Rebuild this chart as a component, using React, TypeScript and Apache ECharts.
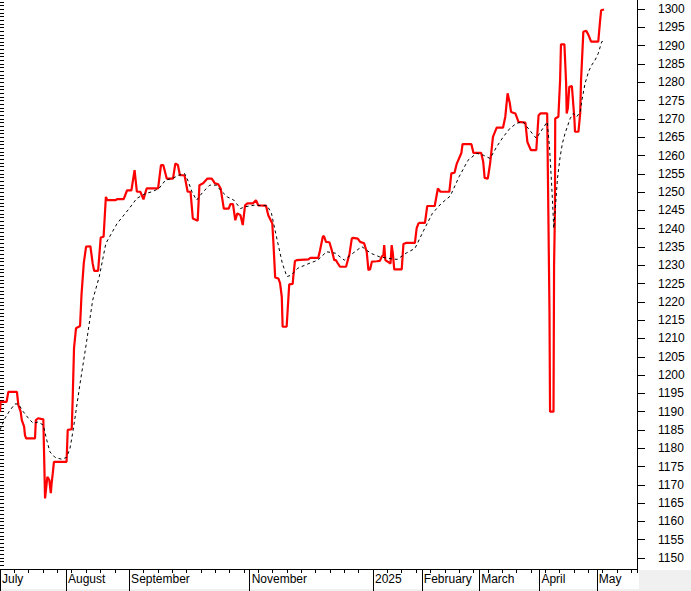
import React, { useEffect, useRef } from "react";
import * as echarts from "echarts";

// Trading-day index (x) and index value (y) of the closing line
const closePoints: [number, number][] = [
  [0, 1190.0], [0.2, 1192.7], [2.3, 1192.7], [2.9, 1195.4], [5.9, 1195.4], [6.4, 1191.8], [7.2, 1190.0],
  [7.6, 1187.7], [8.4, 1185.9], [8.7, 1183.6], [9.1, 1182.7], [12.2, 1182.7], [12.5, 1187.7], [13.3, 1188.2],
  [15.1, 1187.9], [15.4, 1177.2], [15.7, 1166.3], [16.5, 1172.2], [17.2, 1171.3], [17.7, 1167.7], [18.0, 1170.5],
  [18.4, 1173.2], [18.8, 1176.3], [23.2, 1176.3], [23.6, 1185.0], [25.0, 1185.2], [25.3, 1192.7], [25.8, 1207.4],
  [26.5, 1212.8], [27.9, 1213.4], [28.4, 1221.9], [29.2, 1230.6], [30.0, 1235.1], [31.5, 1235.2], [32.3, 1230.5],
  [32.8, 1228.5], [34.2, 1228.5], [35.1, 1237.6], [36.1, 1237.8], [36.9, 1248.7], [37.4, 1247.8], [40.3, 1247.8],
  [40.8, 1248.1], [43.1, 1248.1], [44.3, 1250.5], [45.8, 1250.5], [46.9, 1256.0], [47.7, 1250.1], [48.9, 1250.1],
  [50.0, 1248.0], [51.1, 1251.0], [55.1, 1251.0], [56.1, 1257.4], [56.9, 1257.4], [58.1, 1253.7], [60.3, 1253.7],
  [61.1, 1257.8], [62.0, 1257.4], [62.7, 1254.6], [64.3, 1254.6], [65.4, 1250.1], [66.4, 1250.1], [67.2, 1242.8],
  [68.9, 1242.2], [69.5, 1251.9], [70.8, 1252.4], [72.3, 1253.7], [73.8, 1253.7], [74.9, 1252.4], [76.1, 1252.1],
  [76.9, 1251.0], [78.0, 1245.5], [79.7, 1245.5], [80.3, 1246.7], [81.2, 1246.7], [82.0, 1242.3], [82.7, 1244.2],
  [83.8, 1243.7], [84.6, 1241.0], [85.4, 1246.4], [86.2, 1246.9], [88.1, 1246.9], [89.2, 1247.8], [90.0, 1246.4],
  [92.7, 1246.3], [93.5, 1243.7], [94.9, 1241.4], [95.3, 1236.0], [95.9, 1226.7], [97.0, 1226.4], [97.6, 1225.1],
  [98.2, 1221.4], [98.5, 1213.2], [99.9, 1213.2], [100.5, 1221.0], [100.8, 1224.8], [102.0, 1224.9], [102.2, 1226.7],
  [102.8, 1231.2], [103.4, 1231.4], [107.5, 1231.6], [108.1, 1232.0], [110.9, 1232.0], [111.5, 1234.0], [112.5, 1237.8],
  [112.9, 1238.0], [113.6, 1236.4], [114.8, 1236.3], [115.6, 1234.2], [116.5, 1231.4], [117.1, 1231.4], [117.6, 1230.7],
  [118.5, 1229.6], [120.6, 1229.6], [121.8, 1233.1], [122.6, 1237.3], [123.1, 1237.5], [124.7, 1237.3], [125.5, 1236.4],
  [126.9, 1236.0], [127.8, 1233.7], [128.4, 1228.7], [129.0, 1228.9], [129.6, 1231.0], [131.3, 1231.1], [132.4, 1231.2],
  [133.0, 1232.3], [133.6, 1232.8], [133.9, 1235.5], [134.3, 1231.4], [136.1, 1230.5], [136.5, 1235.5], [136.9, 1233.3],
  [137.4, 1228.9], [140.0, 1228.9], [140.6, 1235.8], [141.5, 1236.1], [144.6, 1236.1], [145.2, 1240.1], [145.8, 1241.4],
  [146.4, 1241.6], [148.1, 1241.6], [148.9, 1246.2], [151.5, 1246.2], [152.6, 1251.0], [153.5, 1250.1], [156.6, 1250.1],
  [157.3, 1255.1], [158.4, 1255.3], [159.2, 1257.8], [160.8, 1260.7], [161.2, 1263.1], [164.3, 1263.1], [165.0, 1260.7],
  [167.7, 1260.7], [168.4, 1258.3], [168.9, 1253.9], [170.0, 1253.7], [170.8, 1257.8], [171.8, 1265.1], [173.1, 1267.6],
  [175.3, 1267.6], [176.1, 1270.6], [176.9, 1277.0], [177.7, 1274.2], [178.1, 1271.9], [179.6, 1271.5], [180.7, 1269.2],
  [183.1, 1269.0], [183.8, 1263.7], [185.0, 1261.5], [186.9, 1261.5], [187.7, 1271.0], [188.4, 1271.5], [190.7, 1271.5],
  [191.1, 1244.6], [191.5, 1217.3], [191.7, 1190.0], [192.9, 1190.0], [193.1, 1230.1], [193.4, 1244.6], [193.5, 1270.1],
  [194.6, 1270.6], [195.2, 1280.6], [195.5, 1290.4], [196.7, 1290.4], [197.3, 1279.7], [197.5, 1271.5], [197.9, 1272.9],
  [198.4, 1278.8], [199.3, 1279.0], [199.6, 1276.0], [200.2, 1269.7], [200.4, 1266.5], [201.6, 1266.5], [202.2, 1271.5],
  [202.5, 1280.6], [203.3, 1293.8], [204.3, 1294.1], [205.1, 1292.9], [206.0, 1291.1], [208.5, 1291.1], [209.1, 1296.5],
  [209.5, 1299.7], [210.5, 1299.9],
];

// Moving average (dashed black line)
const averagePoints: [number, number][] = [
  [0, 1185.0], [1.7, 1188.2], [3.5, 1190.4], [5.2, 1192.1], [6.4, 1192.1], [8.1, 1190.0], [9.9, 1188.2],
  [11.6, 1186.8], [13.3, 1187.2], [15.1, 1186.3], [16.3, 1182.2], [17.4, 1179.0], [19.2, 1177.5], [21.5, 1177.0],
  [23.2, 1177.5], [24.4, 1180.0], [25.5, 1185.0], [26.7, 1191.3], [27.9, 1197.7], [30.0, 1208.2], [32.3, 1220.5],
  [34.6, 1226.9], [36.9, 1236.0], [40.8, 1241.4], [44.6, 1245.1], [47.7, 1248.3], [50.7, 1249.6], [53.0, 1250.1],
  [55.4, 1251.0], [57.7, 1253.3], [60.0, 1253.7], [62.3, 1254.6], [64.3, 1255.1], [65.4, 1253.3], [66.9, 1250.1],
  [68.5, 1247.8], [70.8, 1250.1], [73.1, 1251.9], [75.4, 1251.9], [76.9, 1250.5], [79.2, 1248.7], [81.5, 1247.8],
  [83.8, 1245.5], [85.4, 1246.0], [88.5, 1246.4], [93.1, 1246.3], [94.6, 1244.2], [96.1, 1238.7], [98.4, 1230.5],
  [100.0, 1226.9], [101.5, 1227.3], [103.8, 1229.2], [107.7, 1230.5], [110.7, 1231.4], [113.8, 1233.7], [116.9, 1233.3],
  [120.0, 1231.4], [123.0, 1233.3], [126.1, 1235.1], [129.2, 1233.3], [132.3, 1232.3], [135.3, 1231.9], [138.4, 1231.6],
  [141.5, 1233.3], [144.6, 1234.6], [147.7, 1239.6], [150.7, 1244.2], [153.8, 1246.9], [156.9, 1248.9], [160.0, 1254.2],
  [163.1, 1258.7], [166.1, 1260.6], [168.4, 1260.1], [170.8, 1259.2], [173.1, 1262.4], [175.4, 1265.1], [177.7, 1267.4],
  [180.0, 1268.8], [182.3, 1269.2], [184.6, 1266.9], [186.9, 1264.7], [189.2, 1267.4], [190.7, 1269.2], [191.5, 1262.4],
  [192.3, 1251.4], [193.0, 1240.1], [193.4, 1244.2], [194.3, 1253.8], [195.2, 1259.6], [196.0, 1263.3], [196.9, 1266.0],
  [198.7, 1270.1], [199.8, 1271.5], [201.0, 1270.6], [202.2, 1271.9], [202.8, 1275.1], [203.9, 1279.7], [205.1, 1282.9],
  [206.2, 1284.7], [207.4, 1286.1], [208.5, 1287.9], [209.7, 1291.1], [210.5, 1291.3],
];

// Month boundaries (trading-day index) and their labels
const monthStarts = [0, 23, 45, 87, 130, 147, 167, 188, 208];
const monthLabels = ["July", "August", "September", "November", "2025", "February", "March", "April", "May"];

const X_MIN = 0;
const X_MAX = 222;
const Y_MIN = 1147;
const Y_MAX = 1302.5;

const yMajorTicks: number[] = [];
for (let v = 1150; v <= 1300; v += 5) yMajorTicks.push(v);
const yMinorTicks: number[] = [];
for (let v = 1147; v <= 1302; v += 1) yMinorTicks.push(v);

const FONT = "'Liberation Sans', Arial, sans-serif";

export default function App() {
  const ref = useRef<HTMLDivElement>(null);

  useEffect(() => {
    if (!ref.current) return;
    const chart = echarts.init(ref.current, undefined, { renderer: "svg" });
    const option: any = {
      animation: false,
      backgroundColor: "#ffffff",
      grid: { left: 0, right: 54, top: 0, bottom: 22, containLabel: false, outerBoundsMode: "none" },
      graphic: [
        { type: "rect", left: 639, top: 570, shape: { width: 52, height: 21 }, style: { fill: "#f0f0f0" }, z: -1 },
        { type: "rect", left: 0, top: 589, shape: { width: 691, height: 2 }, style: { fill: "#f0f0f0" }, z: -1 },
      ],
      xAxis: [
        {
          type: "value",
          min: X_MIN,
          max: X_MAX,
          position: "bottom",
          axisLine: { show: true, onZero: false, lineStyle: { color: "#000", width: 1 } },
          axisTick: { show: true, customValues: monthStarts, length: 22, lineStyle: { color: "#000", width: 1 } },
          axisLabel: {
            show: true,
            customValues: monthStarts,
            formatter: (v: number) => {
              const i = monthStarts.indexOf(v);
              return i >= 0 ? monthLabels[i] : "";
            },
            align: "left",
            margin: 4,
            padding: [0, 0, 0, 2],
            color: "#000",
            fontSize: 12,
            fontFamily: FONT,
          },
          splitLine: { show: false },
        },
        {
          type: "value",
          min: X_MIN,
          max: X_MAX,
          interval: 5,
          position: "bottom",
          axisLine: { show: false },
          axisTick: { show: true, length: 4, lineStyle: { color: "#000", width: 1 } },
          axisLabel: { show: false },
          splitLine: { show: false },
        },
      ],
      yAxis: [
        {
          type: "value",
          min: Y_MIN,
          max: Y_MAX,
          position: "right",
          axisLine: { show: true, onZero: false, lineStyle: { color: "#000", width: 1 } },
          axisTick: { show: true, customValues: yMajorTicks, length: 8, lineStyle: { color: "#000", width: 1 } },
          axisLabel: {
            show: true,
            customValues: yMajorTicks,
            formatter: (v: number) => String(Math.round(v)),
            margin: 21,
            color: "#000",
            fontSize: 12,
            fontFamily: FONT,
          },
          splitLine: { show: false },
        },
        {
          type: "value",
          min: Y_MIN,
          max: Y_MAX,
          position: "right",
          axisLine: { show: false },
          axisTick: { show: true, customValues: yMinorTicks, length: 4, lineStyle: { color: "#000", width: 1 } },
          axisLabel: { show: false },
          splitLine: { show: false },
        },
      ],
      series: [
        {
          type: "line",
          xAxisIndex: 0,
          yAxisIndex: 0,
          data: closePoints,
          showSymbol: false,
          symbol: "none",
          lineStyle: { color: "#ff0000", width: 2.2 },
          z: 2,
        },
        {
          type: "line",
          xAxisIndex: 0,
          yAxisIndex: 0,
          data: averagePoints,
          showSymbol: false,
          symbol: "none",
          lineStyle: { color: "#000000", width: 1, type: [3, 3] },
          z: 3,
        },
      ],
    };
    chart.setOption(option);
    return () => chart.dispose();
  }, []);

  return (
    <div
      ref={ref}
      style={{ position: "fixed", left: 0, top: 0, width: 691, height: 591, background: "#fff" }}
    />
  );
}
